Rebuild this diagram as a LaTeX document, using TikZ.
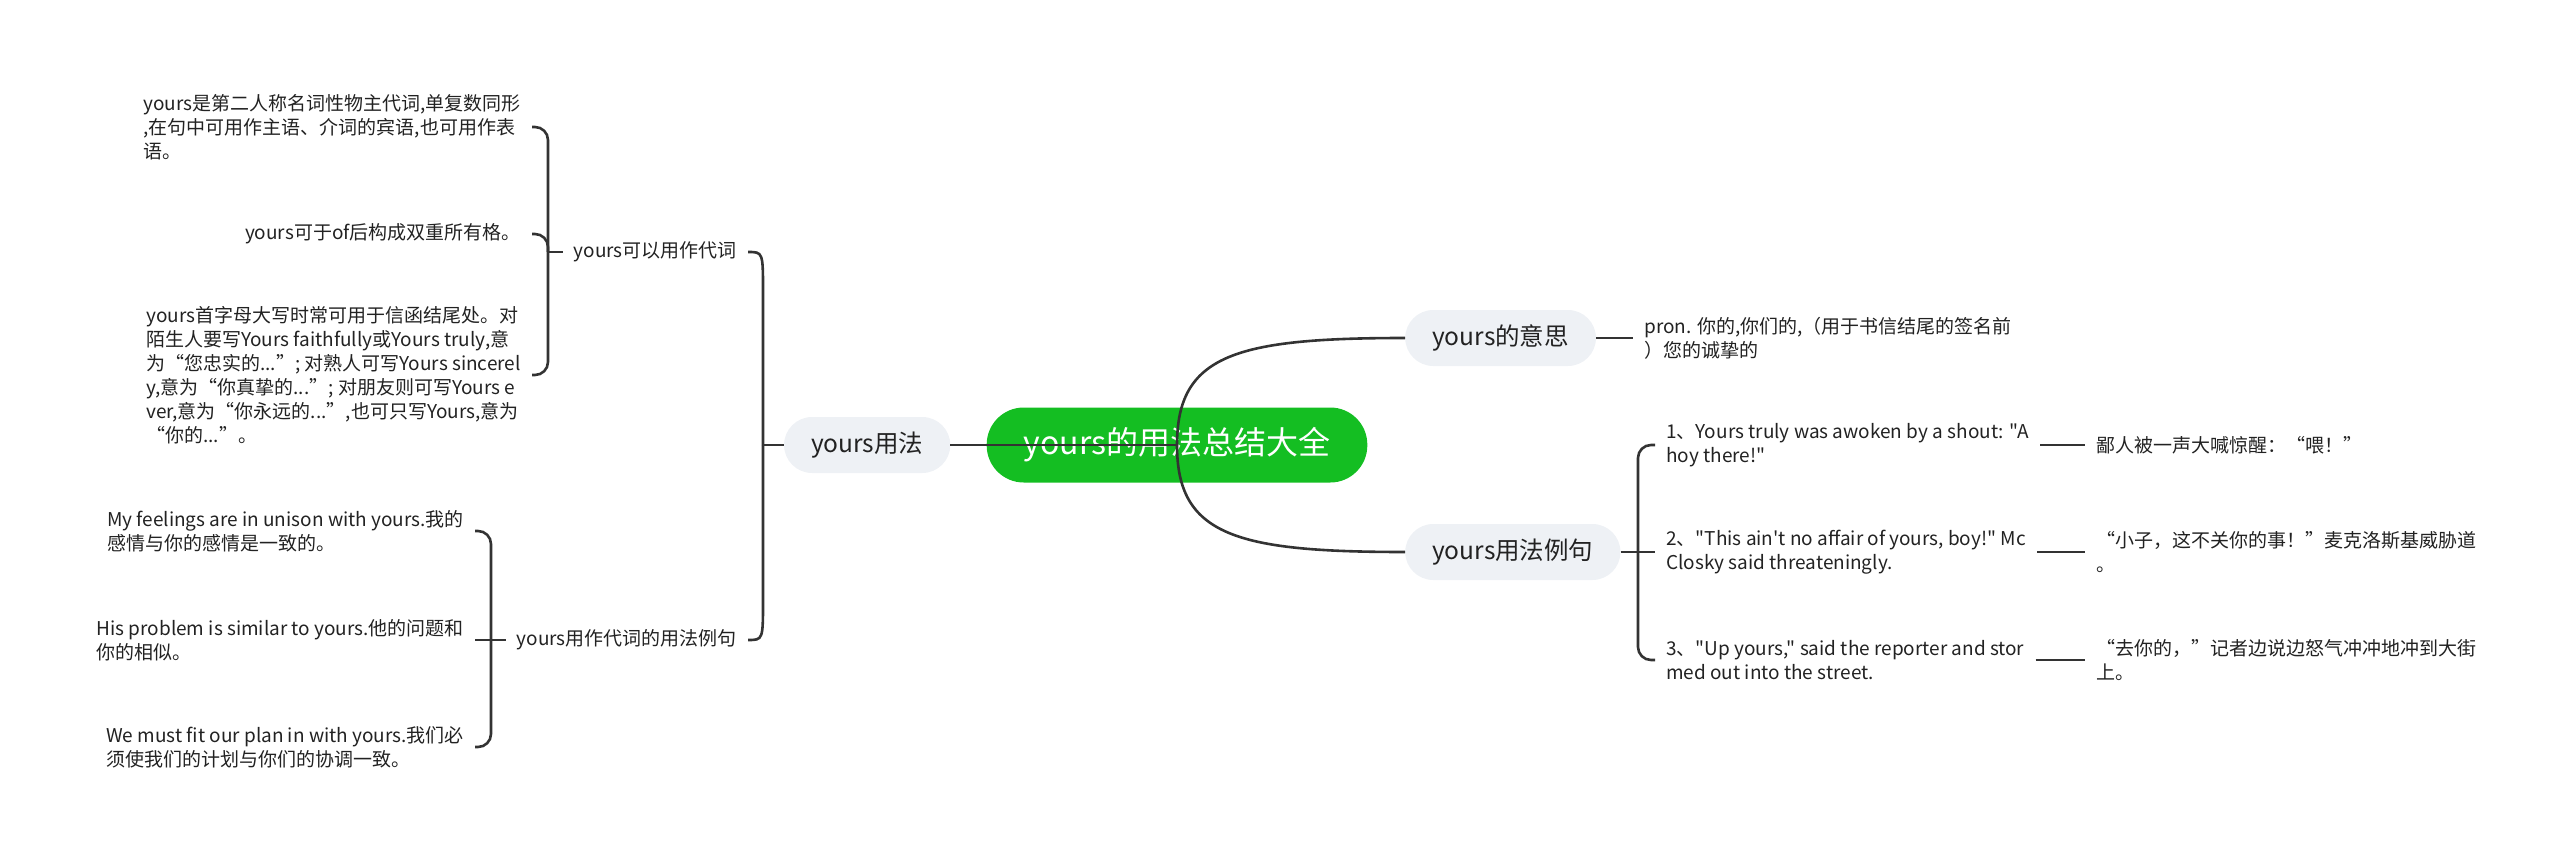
\documentclass[tikz,border=0pt]{standalone}
\usepackage{fontspec}
\newfontfamily\zhfont{Noto Sans CJK SC}
\usepackage{tikz}
\usetikzlibrary{positioning}
\usepackage{xcolor}
\definecolor{mapGreen}{HTML}{14BE22}
\definecolor{mapPill}{HTML}{EEF1F5}
\definecolor{mapInk}{HTML}{222222}
\definecolor{mapLine}{HTML}{333333}
\tikzset{
  rootbox/.style = {rounded corners=37pt, fill=mapGreen, text=white,
                    minimum height=75pt, inner xsep=37pt,
                    font=\zhfont\fontsize{32}{38}\selectfont},
  pillbox/.style = {rounded corners=28pt, fill=mapPill, text=mapInk,
                    minimum height=56pt, inner xsep=27pt,
                    font=\zhfont\fontsize{24.5}{29}\selectfont},
  leaf/.style    = {align=left, inner xsep=11pt, inner ysep=2pt, text=mapInk,
                    font=\zhfont\fontsize{19}{24}\selectfont},
  link/.style    = {draw=mapLine, line width=2.6pt},
  brace/.style   = {link, rounded corners=13pt},
}

\begin{document}
\begin{tikzpicture}[x=1pt, y=-1pt]
  \useasboundingbox (0,0) rectangle (2560,861);

  % main branches
  \node[rootbox] (root) at (1177,445) {yours的用法总结大全};
  \node[pillbox, left=36pt of root] (use) {yours用法};
  \node[pillbox, anchor=west] (mean) at (1405,338) {yours的意思};
  \node[pillbox, anchor=west] (usage) at (1405,552) {yours用法例句};

  % left side
  \node[leaf, anchor=east] (pron) at (748,252) {yours可以用作代词};
  \node[leaf, anchor=east] (exlist) at (748,640) {yours用作代词的用法例句};

  \node[leaf, anchor=east] (case) at (532,127)
    {yours是第二人称名词性物主代词,单复数同形\\
     ,在句中可用作主语、介词的宾语,也可用作表\\
     语。};
  \node[leaf, anchor=east] (ofform) at (532,234) {yours可于of后构成双重所有格。};
  \node[leaf, anchor=east] (letter) at (532,375)
    {yours首字母大写时常可用于信函结尾处。对\\
     陌生人要写Yours faithfully或Yours truly,意\\
     为“您忠实的...”; 对熟人可写Yours sincerel\\
     y,意为“你真挚的...”; 对朋友则可写Yours e\\
     ver,意为“你永远的...”,也可只写Yours,意为\\
     “你的...”。};

  \node[leaf, anchor=east] (unison) at (475,531)
    {My feelings are in unison with yours.我的\\感情与你的感情是一致的。};
  \node[leaf, anchor=east] (similar) at (475,640)
    {His problem is similar to yours.他的问题和\\你的相似。};
  \node[leaf, anchor=east] (fitin) at (475,747)
    {We must fit our plan in with yours.我们必\\须使我们的计划与你们的协调一致。};

  % right side
  \node[leaf, right=37pt of mean] (meantext)
    {pron. 你的,你们的,（用于书信结尾的签名前\\）您的诚挚的};

  \node[leaf, anchor=west] (truly) at (1655,445)
    {1、Yours truly was awoken by a shout: "A\\hoy there!"};
  \node[leaf, anchor=west] (affair) at (1655,552)
    {2、"This ain't no affair of yours, boy!" Mc\\Closky said threateningly.};
  \node[leaf, anchor=west] (upyours) at (1655,660)
    {3、"Up yours," said the reporter and stor\\med out into the street.};

  \node[leaf, anchor=west] (trtruly) at (2085,445) {鄙人被一声大喊惊醒：“喂！”};
  \node[leaf, anchor=west] (traffair) at (2085,552)
    {“小子，这不关你的事！”麦克洛斯基威胁道\\。};
  \node[leaf, anchor=west] (trupyours) at (2085,660)
    {“去你的，”记者边说边怒气冲冲地冲到大街\\上。};

  % connectors
  \draw[link] (use.east) -- (root.center);
  \draw[link] (root.center) .. controls +(0,-90) and +(-170,0) .. (mean.west);
  \draw[link] (root.center) .. controls +(0,90) and +(-170,0) .. (usage.west);
  \draw[link] (mean.east) -- (meantext.west);

  \coordinate (usefork) at (763,445);
  \draw[link] (use.west) -- (usefork);
  \draw[link] (usefork) -- ([yshift=-40pt]usefork |- pron.east)
        .. controls (usefork |- pron.east) .. (pron.east);
  \draw[link] (usefork) -- ([yshift=40pt]usefork |- exlist.east)
        .. controls (usefork |- exlist.east) .. (exlist.east);

  \coordinate (pronfork) at (548,252);
  \draw[link] (pron.west) -- (pronfork);
  \foreach \kid in {case,ofform,letter}
    \draw[brace] (pronfork) |- (\kid.east);

  \coordinate (exfork) at (491,640);
  \draw[link] (exlist.west) -- (exfork) -- (similar.east);
  \foreach \kid in {unison,fitin}
    \draw[brace] (exfork) |- (\kid.east);

  \coordinate (usagefork) at (1638,552);
  \draw[link] (usage.east) -- (usagefork) -- (affair.west);
  \foreach \kid in {truly,upyours}
    \draw[brace] (usagefork) |- (\kid.west);

  \draw[link] (truly.east) -- (trtruly.west);
  \draw[link] (affair.east) -- (traffair.west);
  \draw[link] (upyours.east) -- (trupyours.west);
\end{tikzpicture}
\end{document}
